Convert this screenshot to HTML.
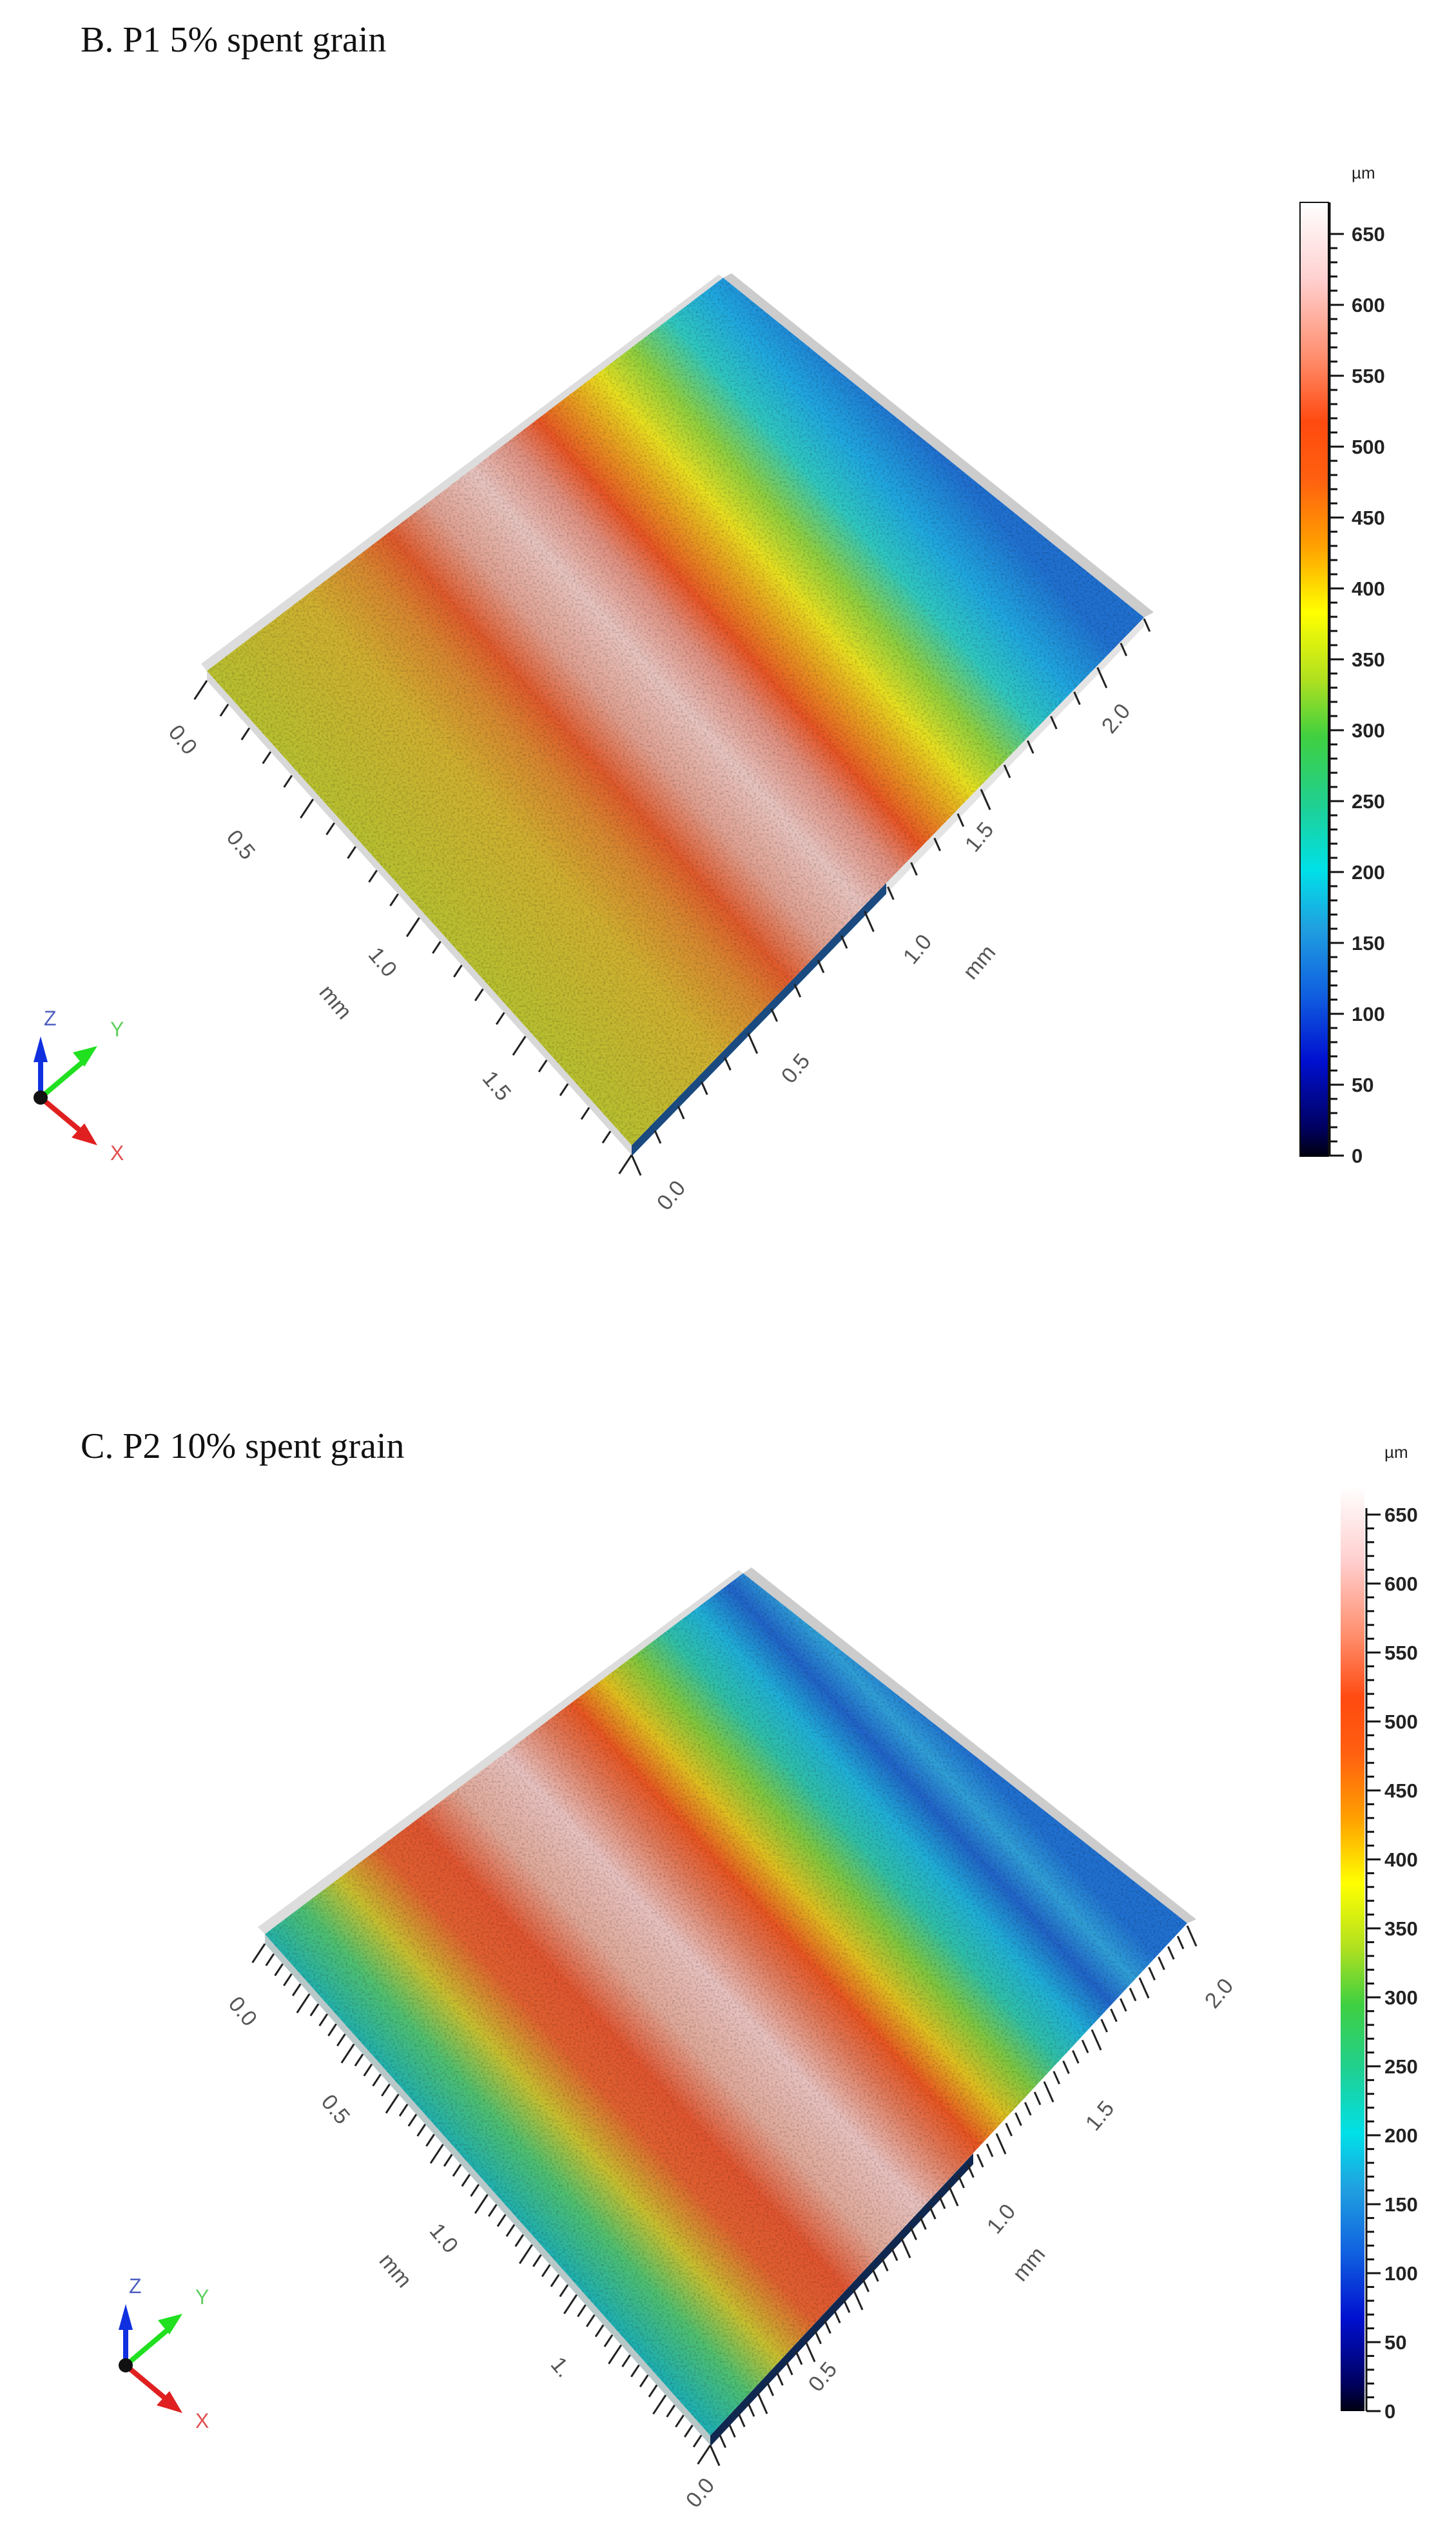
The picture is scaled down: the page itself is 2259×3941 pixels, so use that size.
<!DOCTYPE html>
<html><head><meta charset="utf-8"><style>
html,body{margin:0;padding:0;background:#fff}
svg{display:block}
.t{font-family:"Liberation Serif",serif;font-size:56px;fill:#111}
.a{font-family:"Liberation Sans",sans-serif;font-size:34px;fill:#555}
.c{font-family:"Liberation Sans",sans-serif;font-size:31px;fill:#222;font-weight:bold}
</style></head><body>
<svg id="s" width="2259" height="3941" viewBox="0 0 2259 3941" xmlns="http://www.w3.org/2000/svg">
<defs>
<filter id="grain" x="0" y="0" width="100%" height="100%">
<feTurbulence type="fractalNoise" baseFrequency="0.3" numOctaves="2" seed="3" result="n"/>
<feColorMatrix in="n" type="matrix" values="0 0 0 0 0  0 0 0 0 0  0 0 0 0 0  0 0 0 -2.2 1.25" result="m"/>
<feComposite in="m" in2="SourceGraphic" operator="in"/>
</filter>
<linearGradient id="gB" gradientUnits="userSpaceOnUse" x1="650" y1="1409" x2="1448" y2="694">
<stop offset="0" stop-color="#b8c030"/><stop offset="0.18" stop-color="#d0b030"/>
<stop offset="0.27" stop-color="#d88830"/><stop offset="0.33" stop-color="#e05a2c"/>
<stop offset="0.4" stop-color="#e0a090"/><stop offset="0.48" stop-color="#e8c4c0"/>
<stop offset="0.55" stop-color="#e09080"/><stop offset="0.6" stop-color="#e85525"/>
<stop offset="0.66" stop-color="#e8a020"/><stop offset="0.71" stop-color="#e8e020"/>
<stop offset="0.77" stop-color="#90d040"/><stop offset="0.84" stop-color="#30c8c0"/>
<stop offset="0.91" stop-color="#20a8e0"/><stop offset="1" stop-color="#2070d0"/>
</linearGradient>
<linearGradient id="gC" gradientUnits="userSpaceOnUse" x1="756" y1="3390" x2="1497" y2="2712">
<stop offset="0" stop-color="#20b0b0"/><stop offset="0.08" stop-color="#50c070"/>
<stop offset="0.15" stop-color="#c8c030"/><stop offset="0.23" stop-color="#e06030"/>
<stop offset="0.3" stop-color="#e05530"/><stop offset="0.38" stop-color="#e0a898"/>
<stop offset="0.47" stop-color="#e8c2c0"/><stop offset="0.55" stop-color="#e07858"/>
<stop offset="0.6" stop-color="#e85522"/><stop offset="0.66" stop-color="#e0c020"/>
<stop offset="0.72" stop-color="#80c840"/><stop offset="0.78" stop-color="#30c0a8"/>
<stop offset="0.84" stop-color="#20b0d8"/><stop offset="0.9" stop-color="#2064c8"/>
<stop offset="0.95" stop-color="#30a0d8"/><stop offset="1" stop-color="#2070d0"/>
</linearGradient>
<linearGradient id="cb" x1="0" y1="1" x2="0" y2="0">
<stop offset="0" stop-color="#000010"/><stop offset="0.03" stop-color="#000060"/>
<stop offset="0.1" stop-color="#0010d0"/><stop offset="0.17" stop-color="#1060e0"/>
<stop offset="0.24" stop-color="#20a0e0"/><stop offset="0.3" stop-color="#00e0e8"/>
<stop offset="0.37" stop-color="#20d090"/><stop offset="0.44" stop-color="#40d040"/>
<stop offset="0.5" stop-color="#b0e020"/><stop offset="0.57" stop-color="#ffff00"/>
<stop offset="0.64" stop-color="#ffa000"/><stop offset="0.71" stop-color="#ff6010"/>
<stop offset="0.77" stop-color="#ff4a10"/><stop offset="0.84" stop-color="#ff9070"/>
<stop offset="0.92" stop-color="#ffd0d0"/><stop offset="1" stop-color="#ffffff"/>
</linearGradient>
</defs>

<text class="t" x="125" y="80">B. P1 5% spent grain</text>
<text class="t" x="125" y="2262">C. P2 10% spent grain</text>

<polygon points="1122,431 1135,424 1790,950 1775,958" fill="#ccc"/>
<polygon points="1122,431 1115,426 312,1030 321,1041" fill="#ddd"/>
<polygon points="321,1041 980,1777 980,1792 321,1056" fill="#d8d8d8"/>
<polygon points="980,1777 1375,1370 1375,1387 980,1794" fill="#1a4a80"/>
<polygon points="1375,1370 1775,958 1775,972 1375,1387" fill="#e4e4e4"/>
<polygon points="1122,431 1775,958 980,1777 321,1041" fill="url(#gB)"/>
<polygon points="1122,431 1775,958 980,1777 321,1041" fill="#000" opacity="0.2" filter="url(#grain)"/>

<polygon points="1153,2441 1166,2432 1856,2978 1842,2984" fill="#ccc"/>
<polygon points="1153,2441 1146,2436 400,2990 411,3001" fill="#ddd"/>
<polygon points="411,3001 1102,3779 1102,3794 411,3016" fill="#b8c8c8"/>
<polygon points="1102,3779 1510,3341 1510,3358 1102,3796" fill="#102850"/>
<polygon points="1153,2441 1842,2984 1102,3779 411,3001" fill="url(#gC)"/>
<polygon points="1153,2441 1842,2984 1102,3779 411,3001" fill="#000" opacity="0.2" filter="url(#grain)"/>

<g id="ticks" stroke="#222" stroke-width="3"></g>

<g class="a">
<text transform="translate(275,1155) rotate(50)" text-anchor="middle">0.0</text>
<text transform="translate(365,1318) rotate(50)" text-anchor="middle">0.5</text>
<text transform="translate(585,1500) rotate(50)" text-anchor="middle">1.0</text>
<text transform="translate(512,1562) rotate(50)" text-anchor="middle">mm</text>
<text transform="translate(762,1692) rotate(50)" text-anchor="middle">1.5</text>
<text transform="translate(1050,1862) rotate(-50)" text-anchor="middle">0.0</text>
<text transform="translate(1243,1665) rotate(-50)" text-anchor="middle">0.5</text>
<text transform="translate(1432,1480) rotate(-50)" text-anchor="middle">1.0</text>
<text transform="translate(1528,1500) rotate(-50)" text-anchor="middle">mm</text>
<text transform="translate(1528,1306) rotate(-50)" text-anchor="middle">1.5</text>
<text transform="translate(1740,1122) rotate(-50)" text-anchor="middle">2.0</text>

<text transform="translate(368,3128) rotate(50)" text-anchor="middle">0.0</text>
<text transform="translate(512,3280) rotate(50)" text-anchor="middle">0.5</text>
<text transform="translate(680,3480) rotate(50)" text-anchor="middle">1.0</text>
<text transform="translate(605,3530) rotate(50)" text-anchor="middle">mm</text>
<text transform="translate(862,3680) rotate(50)" text-anchor="middle">1.</text>
<text transform="translate(1095,3875) rotate(-50)" text-anchor="middle">0.0</text>
<text transform="translate(1285,3695) rotate(-50)" text-anchor="middle">0.5</text>
<text transform="translate(1562,3450) rotate(-50)" text-anchor="middle">1.0</text>
<text transform="translate(1605,3520) rotate(-50)" text-anchor="middle">mm</text>
<text transform="translate(1715,3290) rotate(-50)" text-anchor="middle">1.5</text>
<text transform="translate(1900,3100) rotate(-50)" text-anchor="middle">2.0</text>
</g>

<rect x="2017" y="314" width="44" height="1480" fill="url(#cb)" stroke="#111" stroke-width="2"/>
<line x1="2063" y1="314" x2="2063" y2="1794" stroke="#111" stroke-width="3"/>
<text class="c" x="2097" y="277" style="font-weight:normal;font-size:26px">µm</text>
<g id="cbB" class="c"></g>
<rect x="2080" y="2305" width="37" height="1436" fill="url(#cb)"/>
<line x1="2120" y1="2340" x2="2120" y2="3741" stroke="#111" stroke-width="3"/>
<text class="c" x="2148" y="2262" style="font-weight:normal;font-size:26px">µm</text>
<g id="cbC" class="c"></g>

<g id="triB" transform="translate(63,1703)">
<line x1="0" y1="0" x2="0" y2="-65" stroke="#1030e0" stroke-width="8"/><polygon points="-11,-55 11,-55 0,-95" fill="#1030e0"/>
<line x1="0" y1="0" x2="65" y2="-55" stroke="#20e020" stroke-width="8"/><polygon points="50,-70 68,-48 88,-80" fill="#20e020"/>
<line x1="0" y1="0" x2="60" y2="50" stroke="#e02020" stroke-width="8"/><polygon points="48,62 68,40 88,74" fill="#e02020"/>
<circle r="11" fill="#111"/>
<text x="5" y="-112" font-family="Liberation Sans" font-size="32" fill="#5060c0">Z</text>
<text x="108" y="-95" font-family="Liberation Sans" font-size="32" fill="#60d060">Y</text>
<text x="108" y="97" font-family="Liberation Sans" font-size="32" fill="#e05050">X</text>
</g>
<use href="#triB" transform="translate(132,1967)"/>
</svg>
<script>
var NS="http://www.w3.org/2000/svg",g=document.getElementById("ticks");
function tk(x1,y1,x2,y2,n,dx,dy,L){for(var i=0;i<=n;i++){var t=i/n,x=x1+(x2-x1)*t,y=y1+(y2-y1)*t,l=(i%5==0)?L*1.6:L;var e=document.createElementNS(NS,"line");e.setAttribute("x1",x);e.setAttribute("y1",y);e.setAttribute("x2",x+dx*l);e.setAttribute("y2",y+dy*l);g.appendChild(e);}}
tk(321,1056,980,1792,20,-0.55,0.83,22);
tk(980,1792,1775,960,22,0.4,0.9,22);
tk(411,3016,1102,3794,50,-0.55,0.83,22);
tk(1102,3794,1842,2988,50,0.4,0.9,22);
function cb(id,x,y0,step,lx){var G=document.getElementById(id);for(var v=0;v<=650;v+=10){var y=y0-v/50*step;var e=document.createElementNS(NS,"line");e.setAttribute("x1",x);e.setAttribute("x2",x+(v%50==0?22:12));e.setAttribute("y1",y);e.setAttribute("y2",y);e.setAttribute("stroke","#111");e.setAttribute("stroke-width","3");G.appendChild(e);if(v%50==0){var t=document.createElementNS(NS,"text");t.setAttribute("x",lx);t.setAttribute("y",y+11);t.textContent=v;G.appendChild(t);}}}
cb("cbB",2063,1793,110,2097);
cb("cbC",2120,3741,107,2148);
</script>
</body></html>
